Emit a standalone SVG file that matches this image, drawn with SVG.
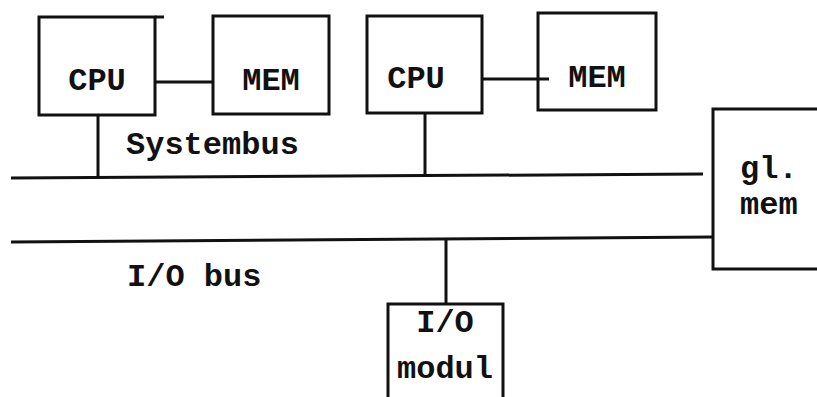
<svg xmlns="http://www.w3.org/2000/svg" width="817" height="397" viewBox="0 0 817 397">
  <style>
    .box { fill: #fff; stroke: #111; stroke-width: 3; }
    .wire { fill: none; stroke: #111; stroke-width: 3; }
    .lbl { font-family: "Liberation Mono", "Courier New", monospace; font-weight: bold; font-size: 32px; fill: #111; }
    .mid { text-anchor: middle; }
  </style>
  <rect width="817" height="397" fill="#fff"/>

  <!-- buses and links -->
  <g id="connectors">
    <line class="wire" x1="11" y1="178" x2="703" y2="174"/>
    <line class="wire" x1="11" y1="242" x2="713" y2="237"/>
    <line class="wire" x1="98" y1="115" x2="98" y2="178"/>
    <line class="wire" x1="425" y1="113" x2="425" y2="176"/>
    <line class="wire" x1="446" y1="240" x2="446" y2="304"/>
    <line class="wire" x1="155" y1="82" x2="213" y2="82"/>
    <line class="wire" x1="482" y1="79" x2="549" y2="79"/>
    <line class="wire" x1="155" y1="17" x2="164" y2="17"/>
  </g>

  <g id="cpu1">
    <rect class="box" x="39" y="17" width="116" height="98"/>
    <text class="lbl mid" x="97" y="90">CPU</text>
  </g>
  <g id="mem1">
    <rect class="box" x="213" y="16" width="116" height="98"/>
    <text class="lbl mid" x="271" y="90">MEM</text>
  </g>
  <g id="cpu2">
    <rect class="box" x="367" y="16" width="115" height="97"/>
    <text class="lbl mid" x="416" y="88">CPU</text>
  </g>
  <g id="mem2">
    <rect class="box" x="538" y="13" width="118" height="97" style="fill:none"/>
    <text class="lbl mid" x="597" y="87">MEM</text>
  </g>
  <g id="glmem">
    <rect class="box" x="713" y="109" width="110" height="160"/>
    <text class="lbl" x="740" y="178">gl.</text>
    <text class="lbl" x="740" y="214">mem</text>
  </g>
  <g id="iomodul">
    <rect class="box" x="388" y="304" width="115" height="100"/>
    <text class="lbl mid" x="445" y="332">I/O</text>
    <text class="lbl mid" x="445" y="378">modul</text>
  </g>

  <text class="lbl" x="126" y="154">Systembus</text>
  <text class="lbl" x="127" y="286">I/O bus</text>
</svg>
